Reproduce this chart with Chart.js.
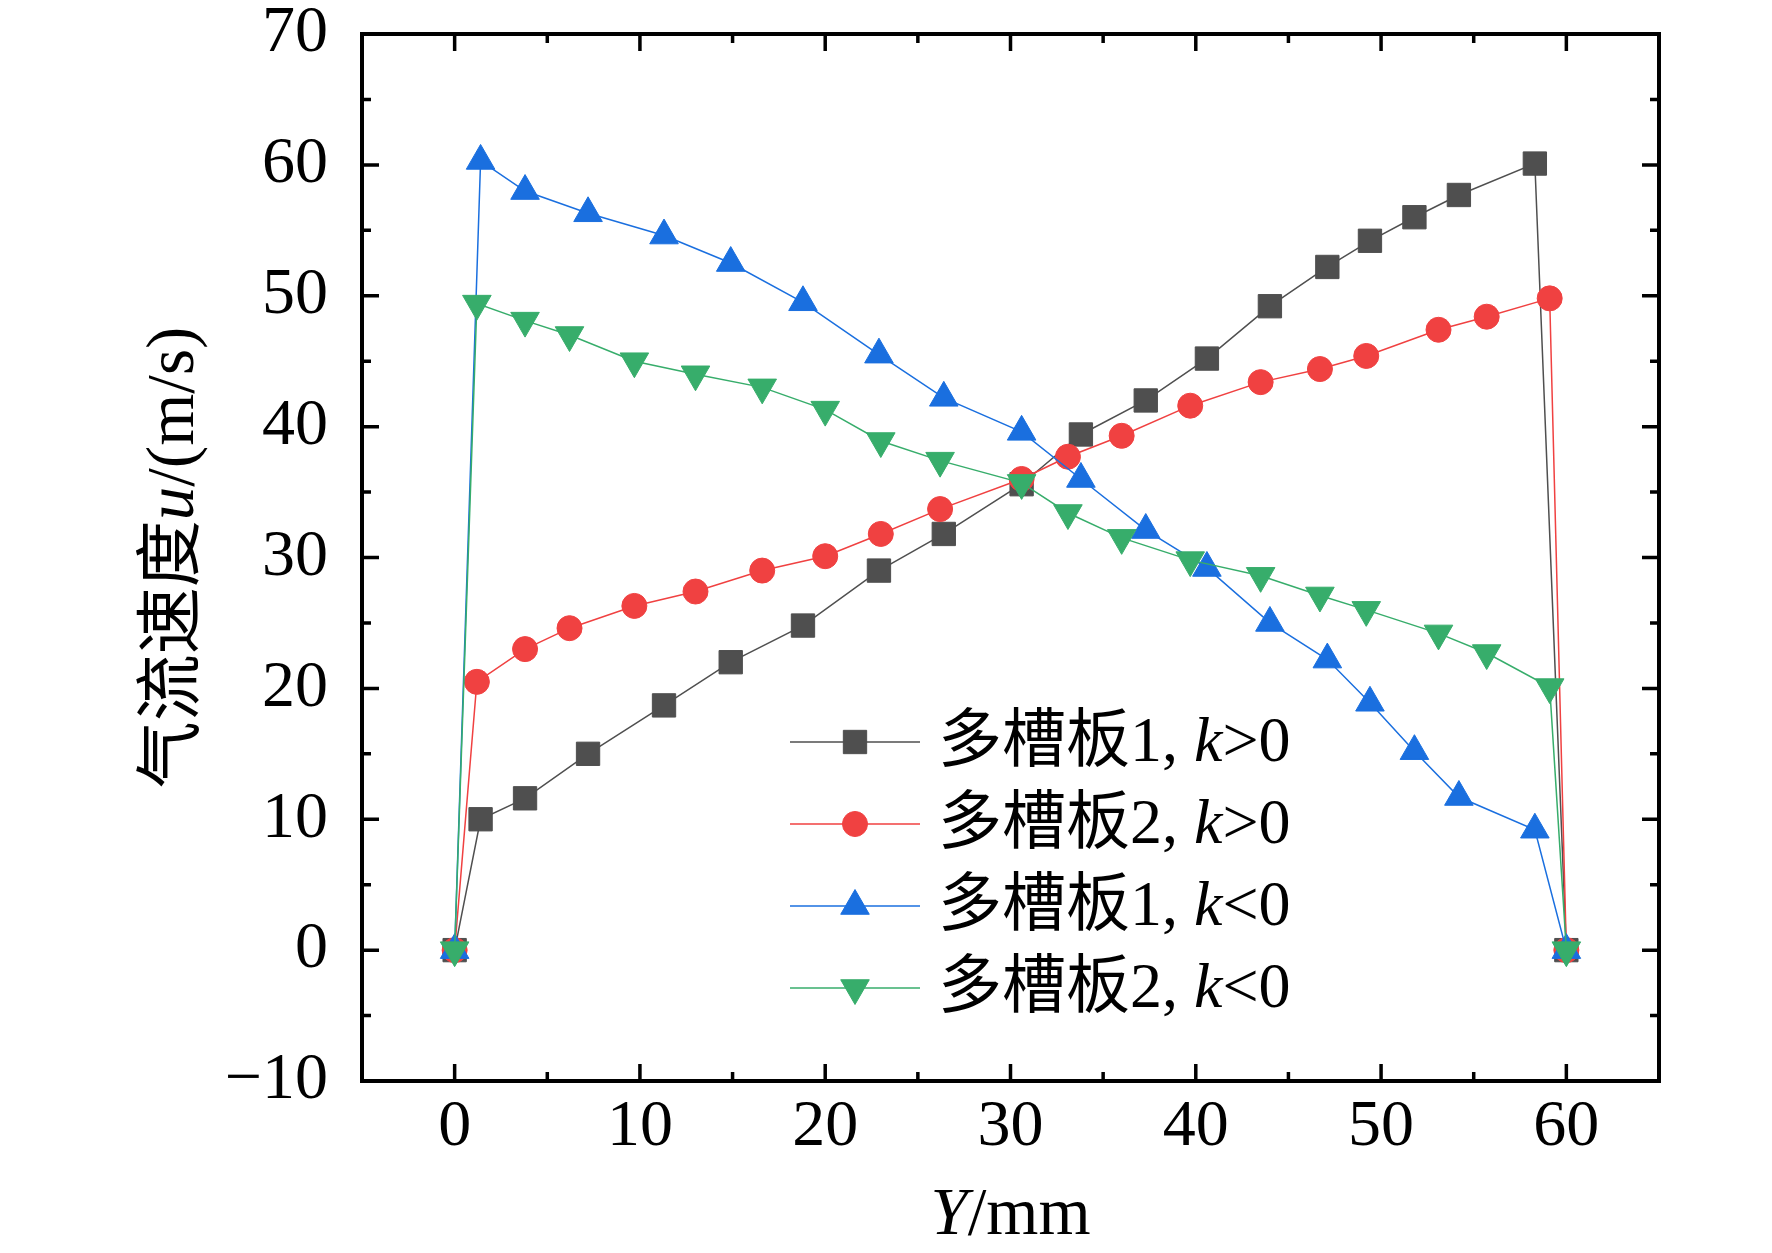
<!DOCTYPE html>
<html>
<head>
<meta charset="utf-8">
<script src="https://cdn.jsdelivr.net/npm/chart.js@4.4.1/dist/chart.umd.min.js"></script>
<style>
  html, body { margin: 0; padding: 0; background: #fff; }
  #wrap { width: 1772px; height: 1253px; }
</style>
</head>
<body>
<div id="wrap"><canvas id="chart" width="1772" height="1253"></canvas></div>
<script>
// Y positions (mm) where each plate was sampled
const posPlate1 = [0, 1.4, 3.8, 7.2, 11.3, 14.9, 18.8, 22.9, 26.4, 30.6, 33.8, 37.3, 40.6, 44.0, 47.1, 49.4, 51.8, 54.2, 58.3, 60];
const posPlate2 = [0, 1.2, 3.8, 6.2, 9.7, 13.0, 16.6, 20.0, 23.0, 26.2, 30.6, 33.1, 36.0, 39.7, 43.5, 46.7, 49.2, 53.1, 55.7, 59.1, 60];

// airflow speed u (m/s)
const plate1KPos = [0, 10.0, 11.6, 15.0, 18.7, 22.0, 24.8, 29.0, 31.8, 35.6, 39.4, 42.0, 45.2, 49.2, 52.2, 54.2, 56.0, 57.7, 60.1, 0];
const plate2KPos = [0, 20.5, 23.0, 24.6, 26.3, 27.4, 29.0, 30.1, 31.8, 33.7, 36.0, 37.7, 39.3, 41.6, 43.4, 44.4, 45.4, 47.4, 48.4, 49.8, 0];
const plate1KNeg = [0, 60.3, 58.0, 56.3, 54.6, 52.5, 49.5, 45.5, 42.2, 39.6, 36.0, 32.1, 29.2, 25.0, 22.2, 18.9, 15.2, 11.7, 9.2, 0];
const plate2KNeg = [0, 49.4, 48.1, 47.0, 45.0, 44.0, 43.0, 41.3, 38.9, 37.4, 35.7, 33.4, 31.5, 29.8, 28.6, 27.1, 26.0, 24.2, 22.7, 20.1, 0];

// axes
const xTickValues = [0, 10, 20, 30, 40, 50, 60];
const yTickValues = [-10, 0, 10, 20, 30, 40, 50, 60, 70];

// legend text parts: plate name, sign of k
const plateNames = ['多槽板1', '多槽板2', '多槽板1', '多槽板2'];
const kSigns = ['>0', '>0', '<0', '<0'];

const colors = ['#4f4f4f', '#f04141', '#1a6fdf', '#37ad6b'];

const SERIF = '"Liberation Serif", "Noto Sans CJK SC"';
const FONT = '64px ' + SERIF;
const FONT_IT = 'italic 64px ' + SERIF;
const TITLE_FONT = '67px ' + SERIF;
const TITLE_FONT_IT = 'italic 67px ' + SERIF;

function toPoints(xs, ys) {
    return xs.map((x, i) => ({ x: x, y: ys[i] }));
}

const markers = [
    { style: 'rect', radius: 16.5, rotation: 0 },
    { style: 'circle', radius: 12.5, rotation: 0 },
    { style: 'triangle', radius: 16.5, rotation: 0 },
    { style: 'triangle', radius: 16.5, rotation: 180 }
];

const seriesData = [
    toPoints(posPlate1, plate1KPos),
    toPoints(posPlate2, plate2KPos),
    toPoints(posPlate1, plate1KNeg),
    toPoints(posPlate2, plate2KNeg)
];

const datasets = seriesData.map((data, i) => ({
    label: plateNames[i] + ', k' + kSigns[i],
    data: data,
    showLine: true,
    borderColor: colors[i],
    backgroundColor: colors[i],
    borderWidth: 1.5,
    pointStyle: markers[i].style,
    pointRadius: markers[i].radius,
    pointRotation: markers[i].rotation,
    pointBorderWidth: 1,
    pointBorderColor: colors[i],
    pointBackgroundColor: colors[i],
    order: 4 - i
}));

// draw a list of text runs with different fonts, one after another
function drawRuns(ctx, runs, x, y, align) {
    let total = 0;
    runs.forEach(r => { ctx.font = r.font; total += ctx.measureText(r.text).width; });
    let cx = align === 'center' ? x - total / 2 : x;
    ctx.textAlign = 'left';
    ctx.textBaseline = 'alphabetic';
    runs.forEach(r => {
        ctx.font = r.font;
        ctx.fillText(r.text, cx, y);
        cx += ctx.measureText(r.text).width;
    });
}

function drawMarker(ctx, m, x, y) {
    const opts = { pointStyle: m.style, radius: m.radius, rotation: m.rotation, borderWidth: 1 };
    if (Chart.helpers && Chart.helpers.drawPoint) {
        Chart.helpers.drawPoint(ctx, opts, x, y);
        return;
    }
    ctx.beginPath();
    if (m.style === 'circle') {
        ctx.arc(x, y, m.radius, 0, Math.PI * 2);
    } else if (m.style === 'rect') {
        const s = m.radius * Math.SQRT1_2;
        ctx.rect(x - s, y - s, 2 * s, 2 * s);
    } else {
        let rad = m.rotation * Math.PI / 180;
        for (let k = 0; k < 3; k++) {
            const px = x + Math.sin(rad) * m.radius, py = y - Math.cos(rad) * m.radius;
            if (k === 0) ctx.moveTo(px, py); else ctx.lineTo(px, py);
            rad += 2 * Math.PI / 3;
        }
        ctx.closePath();
    }
    ctx.fill();
    ctx.stroke();
}

// no extra room for half tick labels, the plot box is placed by hand
function noScalePadding(s) {
    s.paddingTop = 0;
    s.paddingBottom = 0;
    s.paddingLeft = 0;
    s.paddingRight = 0;
}

const framePlugin = {
    id: 'frame',
    afterDatasetsDraw(chart) {
        const { ctx, chartArea: a, scales: { x, y } } = chart;
        ctx.save();

        // box
        ctx.strokeStyle = '#000';
        ctx.lineWidth = 4;
        ctx.strokeRect(a.left, a.top, a.right - a.left, a.bottom - a.top);

        // inward ticks, major every 10, minor every 5
        ctx.lineWidth = 3.5;
        ctx.beginPath();
        for (let v = 0; v <= 60; v += 5) {
            const px = x.getPixelForValue(v);
            const len = v % 10 === 0 ? 17 : 9;
            ctx.moveTo(px, a.bottom); ctx.lineTo(px, a.bottom - len);
            ctx.moveTo(px, a.top); ctx.lineTo(px, a.top + len);
        }
        for (let v = -5; v <= 65; v += 5) {
            const py = y.getPixelForValue(v);
            const len = v % 10 === 0 ? 17 : 9;
            ctx.moveTo(a.left, py); ctx.lineTo(a.left + len, py);
            ctx.moveTo(a.right, py); ctx.lineTo(a.right - len, py);
        }
        ctx.stroke();

        // axis titles
        ctx.fillStyle = '#000';
        drawRuns(ctx, [{ text: 'Y', font: TITLE_FONT_IT }, { text: '/mm', font: TITLE_FONT }],
            (a.left + a.right) / 2, 1234, 'center');

        ctx.save();
        ctx.translate(193, (a.top + a.bottom) / 2);
        ctx.rotate(-Math.PI / 2);
        drawRuns(ctx, [
            { text: '气流速度', font: TITLE_FONT },
            { text: 'u', font: TITLE_FONT_IT },
            { text: '/(m/s)', font: TITLE_FONT }
        ], 0, 0, 'center');
        ctx.restore();

        // legend
        const rowY = [742, 824, 906, 988];
        for (let i = 0; i < 4; i++) {
            const ly = rowY[i];
            ctx.strokeStyle = colors[i];
            ctx.lineWidth = 1.5;
            ctx.beginPath();
            ctx.moveTo(790, ly); ctx.lineTo(920, ly);
            ctx.stroke();
            ctx.fillStyle = colors[i];
            ctx.strokeStyle = colors[i];
            ctx.lineWidth = 1;
            drawMarker(ctx, markers[i], 855, ly);
            ctx.fillStyle = '#000';
            drawRuns(ctx, [
                { text: plateNames[i] + ', ', font: FONT },
                { text: 'k', font: FONT_IT },
                { text: kSigns[i], font: FONT }
            ], 938, ly + 19, 'left');
        }
        ctx.restore();
    }
};

new Chart(document.getElementById('chart'), {
    type: 'scatter',
    data: { datasets: datasets },
    options: {
        responsive: false,
        devicePixelRatio: 1,
        animation: false,
        layout: { autoPadding: false, padding: { left: 0, top: 34, right: 113, bottom: 0 } },
        plugins: { legend: { display: false }, tooltip: { enabled: false } },
        scales: {
            x: {
                type: 'linear',
                min: -5,
                max: 65,
                grid: { display: false },
                border: { display: false },
                afterBuildTicks: s => { s.ticks = xTickValues.map(v => ({ value: v })); },
                afterFit: s => { s.height = 172; noScalePadding(s); },
                ticks: {
                    autoSkip: false,
                    maxRotation: 0,
                    padding: 6,
                    color: '#000',
                    font: { family: '"Liberation Serif"', size: 66, lineHeight: 1 }
                }
            },
            y: {
                type: 'linear',
                min: -10,
                max: 70,
                grid: { display: false },
                border: { display: false },
                afterBuildTicks: s => { s.ticks = yTickValues.map(v => ({ value: v })); },
                afterFit: s => { s.width = 362; noScalePadding(s); },
                ticks: {
                    autoSkip: false,
                    padding: 26,
                    color: '#000',
                    font: { family: '"Liberation Serif"', size: 66, lineHeight: 1 },
                    callback: v => String(v).replace('-', '\u2212')
                }
            }
        }
    },
    plugins: [framePlugin]
});
</script>
</body>
</html>
